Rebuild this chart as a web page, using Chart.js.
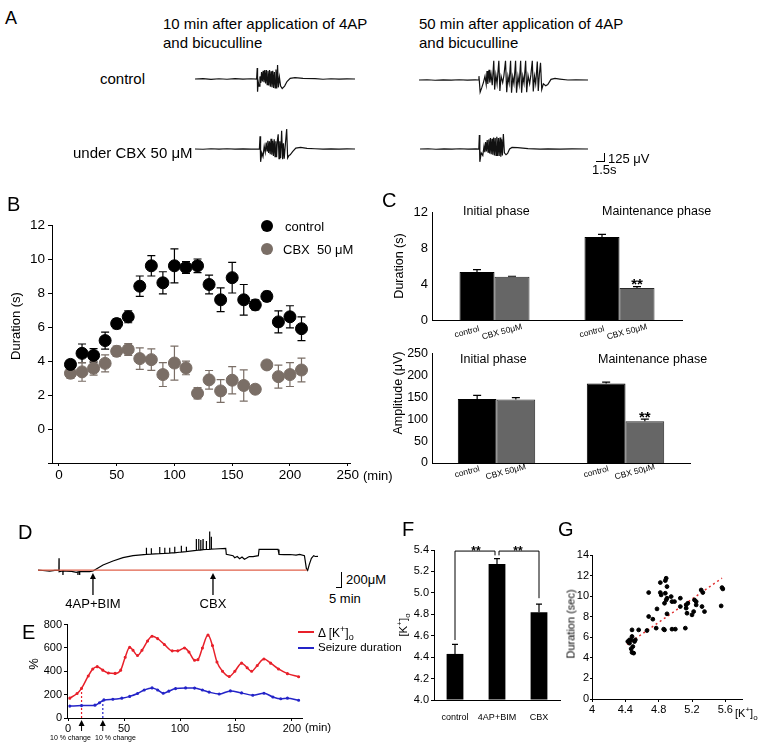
<!DOCTYPE html>
<html>
<head>
<meta charset="utf-8">
<script src="https://cdn.jsdelivr.net/npm/chart.js@4.4.1/dist/chart.umd.min.js"></script>
<style>
  body { margin: 0; width: 763px; height: 743px; position: relative; overflow: hidden; background: #fff;
         font-family: Arial, "Liberation Sans", Helvetica, sans-serif; color: #000; }
  canvas { position: absolute; }
  .t { position: absolute; white-space: nowrap; line-height: 1; }
  .rot { transform: translate(-50%, -50%) rotate(-90deg); }
  .ln { position: absolute; background: #000; }
  .dot { position: absolute; width: 12px; height: 12px; border-radius: 50%; }
</style>
</head>
<body>
<canvas id="a1"></canvas><canvas id="a2"></canvas><canvas id="a3"></canvas><canvas id="a4"></canvas>
<canvas id="b"></canvas><canvas id="c1"></canvas><canvas id="c2"></canvas>
<canvas id="d"></canvas><canvas id="e"></canvas><canvas id="f"></canvas><canvas id="g"></canvas>

<!-- panel A -->
<div class="t" style="left:5px;top:9px;font-size:18px">A</div>
<div class="t" style="left:163px;top:15.5px;font-size:15px">10 min after application of 4AP</div>
<div class="t" style="left:163px;top:34.5px;font-size:15px">and bicuculline</div>
<div class="t" style="left:419px;top:15.5px;font-size:15px">50 min after application of 4AP</div>
<div class="t" style="left:419px;top:34.5px;font-size:15px">and bicuculline</div>
<div class="t" style="left:100px;top:70.5px;font-size:15px">control</div>
<div class="t" style="left:73px;top:144.5px;font-size:15px">under CBX 50 μM</div>
<div class="ln" style="left:604px;top:153px;width:1.2px;height:9px"></div>
<div class="ln" style="left:596px;top:161px;width:9px;height:1.2px"></div>
<div class="t" style="left:608px;top:151.5px;font-size:13px">125 μV</div>
<div class="t" style="left:592px;top:162.5px;font-size:13px">1.5s</div>

<!-- panel B -->
<div class="t" style="left:7px;top:194.4px;font-size:20px">B</div>
<div class="dot" style="left:261px;top:220px;background:#000"></div>
<div class="t" style="left:285px;top:220px;font-size:13px">control</div>
<div class="dot" style="left:261px;top:243px;background:#7a6e66"></div>
<div class="t" style="left:283px;top:243px;font-size:13px">CBX&nbsp;&nbsp;50 μM</div>
<div class="t rot" style="left:15px;top:326px;font-size:13px">Duration (s)</div>
<div class="t" style="left:363px;top:468.5px;font-size:13px">(min)</div>

<!-- panel C -->
<div class="t" style="left:382px;top:190.4px;font-size:20px">C</div>
<div class="t" style="left:463px;top:205px;font-size:12.5px">Initial phase</div>
<div class="t" style="left:602px;top:205px;font-size:12.5px">Maintenance phase</div>
<div class="t" style="left:460px;top:353px;font-size:12.5px">Initial phase</div>
<div class="t" style="left:598px;top:353px;font-size:12.5px">Maintenance phase</div>
<div class="t rot" style="left:399px;top:266px;font-size:12.5px">Duration (s)</div>
<div class="t rot" style="left:398px;top:393px;font-size:12.5px">Amplitude (μV)</div>

<!-- panel D -->
<div class="t" style="left:18px;top:522.4px;font-size:20px">D</div>
<div class="ln" style="left:341px;top:572px;width:1.2px;height:16px"></div>
<div class="ln" style="left:336px;top:587px;width:6px;height:1.2px"></div>
<div class="t" style="left:346px;top:572.5px;font-size:13px">200μM</div>
<div class="t" style="left:329px;top:591.5px;font-size:13px">5 min</div>

<!-- panel E -->
<div class="t" style="left:22px;top:622.4px;font-size:20px">E</div>
<div class="t rot" style="left:33px;top:664px;font-size:13px">%</div>
<div class="t" style="left:305px;top:722px;font-size:11.5px">(min)</div>
<div class="t" style="left:50px;top:733.5px;font-size:7px">10 % change</div>
<div class="t" style="left:95px;top:733.5px;font-size:7px">10 % change</div>
<div class="ln" style="left:298px;top:631px;width:16px;height:1.5px;background:#e8202a"></div>
<div class="t" style="left:318px;top:625px;font-size:12px">Δ [K<sup style="font-size:9px">+</sup>]<sub style="font-size:9px">o</sub></div>
<div class="ln" style="left:298px;top:647px;width:16px;height:1.5px;background:#2424c8"></div>
<div class="t" style="left:318px;top:641.5px;font-size:11.5px">Seizure duration</div>

<!-- panel F -->
<div class="t" style="left:402px;top:519.4px;font-size:20px">F</div>
<div class="t rot" style="left:404px;top:625px;font-size:11.5px">[K<sup style="font-size:8px">+</sup>]<sub style="font-size:8px">o</sub></div>

<!-- panel G -->
<div class="t" style="left:558px;top:519.4px;font-size:20px">G</div>
<div class="t rot" style="left:571px;top:624px;font-size:11px">Duration (sec)</div>
<div class="t" style="left:735px;top:706px;font-size:11px">[K<sup style="font-size:8px">+</sup>]<sub style="font-size:8px">o</sub></div>

<script>
// ---------- data ----------
// A: field potential traces, [time (s), amplitude (µV)]
const aControl10 = [[0,0],[1,5],[2,-5],[3,4],[4,-4],[5,5],[6,-3],[7,4],[7.7,0],
  [7.78,170],[7.82,-200],[7.9,-40],[8.0,-110],[8.12,40],[8.22,-60],[8.32,110],[8.42,-40],[8.52,130],[8.62,-50],
  [8.72,140],[8.82,-70],[8.92,140],[9.02,-90],[9.12,130],[9.22,-100],[9.32,140],[9.42,-120],[9.52,120],[9.62,-130],
  [9.72,130],[9.82,-140],[9.92,110],[10.02,-140],[10.12,150],[10.22,-150],[10.32,220],[10.42,-130],[10.55,30],
  [10.7,-110],[10.9,-150],[11.2,-110],[11.5,-40],[11.9,10],[12.5,20],[13.5,10],[15,5],[16,-4],[17,4],[18,-3],[19,3],[20,0]];
const aControl50 = [[0,0],[1,4],[2,-4],[3,3],[4,-3],[5,4],[6,-3],[7,2],[7.35,0],[7.45,60],[7.6,-190],[7.8,-120],
  [8.0,-40],[8.2,60],[8.35,-70],[8.45,140],[8.55,-60],[8.7,160],[8.8,-40],[8.95,90],[9.1,-80],[9.29,300],[9.4,-150],
  [9.55,80],[9.7,-60],[9.92,300],[10.05,-170],[10.2,60],[10.4,-40],[10.55,70],[10.75,300],[10.9,-190],[11.05,60],
  [11.2,-50],[11.38,300],[11.5,-200],[11.65,50],[11.8,-60],[12.0,300],[12.12,-200],[12.3,60],[12.45,-70],[12.63,300],
  [12.75,-200],[12.9,60],[13.05,-50],[13.25,300],[13.38,-190],[13.55,70],[13.75,-60],[13.9,80],[14.08,300],[14.2,-180],
  [14.35,60],[14.5,-60],[14.7,290],[14.82,-170],[14.95,80],[15.1,270],[15.25,-150],[15.45,-60],[15.75,-90],[16.0,-70],
  [16.4,10],[16.9,25],[17.5,15],[18.5,0],[19.5,4],[21,0]];
const aCbx10 = [[0,0],[1,-4],[2,4],[3,-3],[4,4],[5,-3],[6,3],[7,-3],[8.05,0],[8.13,200],[8.2,-200],[8.35,-60],
  [8.5,-120],[8.65,40],[8.78,-50],[8.9,100],[9.0,-30],[9.1,130],[9.2,-60],[9.3,120],[9.4,-80],[9.5,160],[9.6,-90],
  [9.7,130],[9.8,-110],[9.9,150],[10.0,-120],[10.1,120],[10.2,-130],[10.3,140],[10.4,230],[10.5,-150],[10.6,120],
  [10.7,-140],[10.83,285],[10.95,-160],[11.05,90],[11.15,-150],[11.3,80],[11.46,312],[11.58,-140],[11.75,-100],
  [11.9,-90],[12.2,-40],[12.6,15],[13.2,25],[14,10],[15,4],[16,-3],[17,3],[18,-3],[19,3],[20,0]];
const aCbx50 = [[0,0],[1,4],[2,-4],[3,3],[4,-3],[5,4],[6,-3],[7,3],[7.35,0],[7.42,220],[7.48,-200],[7.65,-60],
  [7.85,-100],[8.0,40],[8.1,-50],[8.2,110],[8.3,-40],[8.4,140],[8.5,-50],[8.6,150],[8.7,-70],[8.8,170],[8.9,-80],
  [9.0,160],[9.1,-90],[9.2,180],[9.3,-100],[9.4,170],[9.5,-100],[9.6,190],[9.7,-110],[9.8,170],[9.9,-110],[10.0,180],
  [10.1,-120],[10.2,150],[10.3,-100],[10.42,234],[10.55,-60],[10.75,-90],[10.95,-70],[11.2,0],[11.5,25],[12.2,20],
  [13.5,5],[15,-3],[16,3],[17.5,-3],[19,3],[21,0]];

// B: seizure duration over time
const bTime = [10,20,30,40,50,60,70,80,90,100,110,120,130,140,150,160,170,180,190,200,210];
const bControl = [3.8,4.45,4.33,5.2,6.2,6.6,8.4,9.6,8.6,9.6,9.5,9.6,8.5,7.6,8.9,7.6,7.3,7.8,6.3,6.6,5.9];
const bControlErr = [0.25,0.55,0.4,0.5,0.3,0.35,0.6,0.6,0.65,1.0,0.35,0.4,0.55,0.7,0.9,0.9,0.3,0.3,0.65,0.65,0.7];
const bCbx = [3.28,3.36,3.57,3.86,4.57,4.68,4.14,4.08,3.2,3.88,3.59,2.1,2.89,2.24,2.87,2.56,2.34,3.77,3.08,3.2,3.47];
const bCbxErr = [0.3,0.55,0.4,0.5,0.3,0.35,0.63,0.63,0.7,1.0,0.4,0.33,0.55,0.67,0.8,0.92,0.25,0.25,0.68,0.7,0.7];
const bXTicks = [0,50,100,150,200,250];

// C: duration and amplitude by phase
const cGroups = ['Initial phase','Maintenance phase'];
const cBarLabels = ['control','CBX 50μM'];
const cDurControl = [5.38,9.29], cDurControlErr = [0.25,0.3];
const cDurCbx = [4.83,3.59], cDurCbxErr = [0.07,0.15];
const cAmpControl = [146.4,181.7], cAmpControlErr = [8,3];
const cAmpCbx = [144.9,95.3], cAmpCbxErr = [4.5,5];
const cSig = ['','**'];

// D: K+ recording, [time (min), level]
const dTrace = [[0,0],[4,-5],[9.7,-11],[14,-4],[17.4,-4],[17.5,130],[17.6,-18],[20.7,-10],[20.8,-74],[20.9,-10],
  [23.6,-11],[28,-15],[31.9,-26],[33.2,-20],[33.3,-74],[33.4,-20],[34.6,-18],[34.7,-55],[34.8,-18],[43,-18],
  [45.8,-11],[48.6,11],[54.2,56],[62.5,100],[70.8,137],[79.2,159],[86,168],[90.2,174],[90.3,248],[90.4,174],
  [94.3,176],[94.4,241],[94.5,176],[101.3,181],[101.4,255],[101.5,181],[105.5,184],[105.6,248],[105.7,184],
  [109.6,187],[109.7,248],[109.8,187],[113.8,192],[113.9,259],[114,192],[119.3,200],[119.4,270],[119.5,200],
  [123.5,204],[123.6,259],[123.7,204],[131.8,218],[131.9,344],[132,218],[133.8,220],[133.9,344],[134,220],
  [135.5,222],[135.6,333],[135.7,222],[137.4,226],[137.5,344],[137.6,226],[140.2,228],[140.3,322],[140.4,228],
  [142.9,230],[143,426],[143.1,230],[144.3,231],[144.4,370],[144.5,231],[147.2,233],[156.4,241],[156.9,174],
  [162.5,159],[163.9,137],[166,150],[168,125],[170,145],[172,120],[173.6,130],[176,150],[179.2,148],[183.6,159],
  [184.2,229],[200,229],[200.8,174],[205,170],[210,172],[215,165],[218,174],[222,159],[223.6,18],[224.7,-4],
  [226,60],[227.8,130],[229.7,159],[231,150],[233.3,152]];
const dBaseline = [[0,0],[224,0]];
const dMarkTime = [45.8,145.8];
const dMarkLabel = ['4AP+BIM','CBX'];

// E: percent change over time
const eKTime = [1.5,8,12,18,22,26,31,36,42,47,51,55,58,62,66,71,75,80,86,93,98,104,108,113,116,120,125,129,133,138,144,149,155,160,164,169,175,181,188,196,206];
const eKValue = [170,210,254,360,420,440,410,385,382,410,520,605,580,535,580,660,700,680,630,575,575,600,565,495,500,600,710,620,480,400,355,400,470,430,400,450,505,470,420,380,353];
const eDurTime = [1.5,12,24,28,32,40,48,55,62,68,75,80,85,90,96,105,113,120,126,135,145,155,165,175,183,190,196,206];
const eDurValue = [102,106,110,130,155,160,170,185,210,240,258,240,212,230,252,258,256,240,222,205,232,215,195,212,180,165,170,152];
const eChangeTime = [12,31];
const eChangeLevel = [254,150];
const eXTicks = [0,50,100,150,200];

// F: [K+]o by condition
const fLabels = ['control','4AP+BIM','CBX'];
const fValues = [4.43,5.27,4.82];
const fErrors = [0.09,0.05,0.075];
const fBracketTop = 5.39, fBracketLeft = 4.56, fBracketRight = 4.95;

// G: duration vs [K+]o
const gK = [4.43,4.45,4.47,4.48,4.48,4.49,4.48,4.50,4.51,4.47,4.45,4.52,4.56,4.66,4.68,4.68,4.73,4.78,4.77,4.82,
  4.82,4.83,4.87,4.86,4.87,4.88,4.88,4.89,4.90,4.89,4.90,4.90,4.95,4.96,4.96,4.99,5.00,5.06,5.06,5.12,
  5.13,5.13,5.14,5.15,5.20,5.23,5.25,5.25,5.32,5.31,5.33,5.35,5.22,5.55,5.56,5.57];
const gDur = [5.59,5.43,5.75,6.72,6.08,5.10,4.53,4.46,5.59,4.88,5.75,5.75,6.72,6.66,10.35,8.02,7.76,8.76,6.89,11.32,
  10.35,10.12,9.31,6.79,6.72,10.28,11.51,11.74,10.93,9.63,8.28,9.80,9.96,9.47,6.79,9.47,6.79,9.80,8.99,6.89,
  9.15,8.83,8.34,9.31,8.18,9.63,9.47,9.15,8.99,10.60,10.35,8.50,8.50,9.05,10.83,10.70];
const gFit = [[4.42,5.3],[5.56,11.75]];

// ---------- helpers ----------
Chart.defaults.font.family = 'Arial, "Liberation Sans", Helvetica, sans-serif';
Chart.defaults.color = '#000';
Chart.defaults.animation = false;
Chart.defaults.responsive = false;
Chart.defaults.plugins.legend.display = false;
Chart.defaults.plugins.tooltip.enabled = false;

const FONT = 'Arial, "Liberation Sans", Helvetica, sans-serif';
const xy = pts => pts.map(p => ({ x: p[0], y: p[1] }));

// put a canvas so that its chart area lands on area = [left, top, right, bottom]
function setup(id, area, m) {
  const c = document.getElementById(id);
  c.width = area[2] - area[0] + m[0] + m[2];
  c.height = area[3] - area[1] + m[1] + m[3];
  c.style.left = (area[0] - m[0]) + 'px';
  c.style.top = (area[1] - m[1]) + 'px';
  return c;
}

function drawErrors(chart) {
  const ctx = chart.ctx, ys = chart.scales.y;
  chart.data.datasets.forEach((ds, i) => {
    if (!ds.errors) return;
    const meta = chart.getDatasetMeta(i);
    ctx.save();
    ctx.strokeStyle = ds.errorColor || '#000';
    ctx.lineWidth = 1.2;
    meta.data.forEach((el, j) => {
      const raw = ds.data[j];
      const v = typeof raw === 'object' ? raw.y : raw;
      const cap = ds.errorCap || 3;
      const top = ys.getPixelForValue(v + ds.errors[j]);
      const bot = ds.bothSides ? ys.getPixelForValue(v - ds.errors[j]) : el.y;
      ctx.beginPath();
      ctx.moveTo(el.x, top); ctx.lineTo(el.x, bot);
      ctx.moveTo(el.x - cap, top); ctx.lineTo(el.x + cap, top);
      if (ds.bothSides) { ctx.moveTo(el.x - cap, bot); ctx.lineTo(el.x + cap, bot); }
      ctx.stroke();
    });
    ctx.restore();
  });
}
const errorsBehind = { id: 'errorsBehind', beforeDatasetsDraw: drawErrors };
const errorsFront = { id: 'errorsFront', afterDatasetsDraw: drawErrors };

function arrowUp(ctx, x, tip, tail) {
  ctx.beginPath();
  ctx.moveTo(x, tail); ctx.lineTo(x, tip + 2); ctx.stroke();
  ctx.beginPath();
  ctx.moveTo(x, tip); ctx.lineTo(x - 3, tip + 6); ctx.lineTo(x + 3, tip + 6); ctx.closePath(); ctx.fill();
}

const axisGrid = len => ({ display: true, drawOnChartArea: false, drawTicks: true, tickLength: len, color: '#000' });
const axisBorder = { color: '#000', width: 1 };

// ---------- A ----------
function traceChart(id, area, pts, tMax) {
  new Chart(setup(id, area, [0, 0, 0, 0]), {
    type: 'line',
    data: { datasets: [{ data: xy(pts), borderColor: '#111', borderWidth: 1.2, pointRadius: 0, tension: 0 }] },
    options: {
      layout: { padding: 0 },
      scales: { x: { type: 'linear', display: false, min: 0, max: tMax }, y: { display: false, min: -375, max: 375 } }
    }
  });
}
traceChart('a1', [195, 55, 355, 103], aControl10, 20);
traceChart('a2', [419, 56, 588, 104], aControl50, 21);
traceChart('a3', [195, 125, 355, 173], aCbx10, 20);
traceChart('a4', [420, 125, 588, 173], aCbx50, 21);

// ---------- B ----------
new Chart(setup('b', [52, 225, 350, 463], [52, 12, 22, 22]), {
  type: 'scatter',
  data: {
    datasets: [
      { data: bTime.map((t, i) => ({ x: t, y: bControl[i] })), errors: bControlErr, bothSides: true, errorCap: 4,
        errorColor: '#000', backgroundColor: '#000', borderColor: '#000', pointRadius: 6 },
      { data: bTime.map((t, i) => ({ x: t, y: bCbx[i] })), errors: bCbxErr, bothSides: true, errorCap: 4,
        errorColor: '#7a6e66', backgroundColor: '#7a6e66', borderColor: '#7a6e66', pointRadius: 6 }
    ]
  },
  options: {
    layout: { padding: { top: 12, right: 22, left: 0, bottom: 0 } },
    scales: {
      x: { type: 'linear', min: -6, max: 252,
           afterBuildTicks: s => { s.ticks = bXTicks.map(v => ({ value: v })); },
           afterFit: s => { s.height = 22; },
           grid: axisGrid(3), border: axisBorder,
           ticks: { font: { size: 13.5 }, padding: 1, maxRotation: 0 } },
      y: { min: -2, max: 12,
           afterFit: s => { s.width = 52; },
           grid: axisGrid(4), border: axisBorder,
           ticks: { stepSize: 2, font: { size: 13.5 }, padding: 3, callback: v => (v < 0 ? '' : v) } }
    }
  },
  plugins: [errorsBehind]
});

// ---------- C ----------
function cChart(id, area, ctrl, ctrlErr, cbx, cbxErr, yMax, yStep, catPct, labelDy, tickSize) {
  const labelPlugin = {
    id: 'cLabels',
    afterDraw(chart) {
      const ctx = chart.ctx, base = chart.chartArea.bottom, ys = chart.scales.y;
      ctx.save();
      ctx.fillStyle = '#000';
      chart.data.datasets.forEach((ds, i) => {
        chart.getDatasetMeta(i).data.forEach((el, j) => {
          ctx.save();
          ctx.font = '8.5px ' + FONT;
          ctx.textAlign = 'center'; ctx.textBaseline = 'middle';
          ctx.translate(el.x - 10, base + labelDy);
          ctx.rotate(-15 * Math.PI / 180);
          ctx.fillText(cBarLabels[i], 0, 0);
          ctx.restore();
          if (ds.sig && ds.sig[j]) {
            ctx.font = 'bold 15px ' + FONT;
            ctx.textAlign = 'center'; ctx.textBaseline = 'alphabetic';
            ctx.fillText(ds.sig[j], el.x, ys.getPixelForValue(ds.data[j] + ds.errors[j]) + 2.5);
          }
        });
      });
      ctx.restore();
    }
  };
  new Chart(setup(id, area, [40, 10, 15, 25]), {
    type: 'bar',
    data: {
      labels: cGroups,
      datasets: [
        { data: ctrl, errors: ctrlErr, errorCap: 4, backgroundColor: '#000', borderColor: '#000', borderWidth: 1,
          barPercentage: 1, categoryPercentage: catPct },
        { data: cbx, errors: cbxErr, errorCap: 4, sig: cSig, backgroundColor: '#666', borderColor: '#2a2a2a', borderWidth: 1,
          barPercentage: 1, categoryPercentage: catPct }
      ]
    },
    options: {
      layout: { padding: { top: 10, right: 15, left: 0, bottom: 0 } },
      scales: {
        x: { grid: { display: false }, ticks: { display: false }, border: axisBorder, afterFit: s => { s.height = 25; } },
        y: { min: 0, max: yMax, grid: { display: false, drawTicks: false }, border: axisBorder, afterFit: s => { s.width = 40; },
             ticks: { stepSize: yStep, font: { size: tickSize }, padding: 4 } }
      }
    },
    plugins: [errorsFront, labelPlugin]
  });
}
cChart('c1', [432, 211, 682, 320], cDurControl, cDurControlErr, cDurCbx, cDurCbxErr, 12, 4, 0.56, 12, 13);
cChart('c2', [432, 352, 690, 463], cAmpControl, cAmpControlErr, cAmpCbx, cAmpCbxErr, 250, 50, 0.6, 9, 12.5);

// ---------- D ----------
const dMarks = {
  id: 'dMarks',
  afterDraw(chart) {
    const ctx = chart.ctx, xs = chart.scales.x, b = chart.chartArea.bottom;
    ctx.save();
    ctx.strokeStyle = '#000'; ctx.fillStyle = '#000'; ctx.lineWidth = 1.3;
    ctx.font = '13px ' + FONT; ctx.textAlign = 'center'; ctx.textBaseline = 'middle';
    dMarkTime.forEach((t, i) => {
      const x = xs.getPixelForValue(t);
      arrowUp(ctx, x, b - 2, b + 20);
      ctx.fillText(dMarkLabel[i], x, b + 29);
    });
    ctx.restore();
  }
};
new Chart(setup('d', [38, 529, 318, 575], [0, 5, 6, 36]), {
  type: 'line',
  data: {
    datasets: [
      { data: xy(dBaseline), borderColor: '#e0604a', borderWidth: 1.3, pointRadius: 0, order: 0 },
      { data: xy(dTrace), borderColor: '#000', borderWidth: 1.2, pointRadius: 0, order: 1 }
    ]
  },
  options: {
    layout: { padding: { left: 0, top: 5, right: 6, bottom: 36 } },
    scales: { x: { type: 'linear', display: false, min: 0, max: 233.3 }, y: { display: false, min: -55, max: 455 } }
  },
  plugins: [dMarks]
});

// ---------- E ----------
const eArrows = {
  id: 'eArrows',
  afterDraw(chart) {
    const ctx = chart.ctx, xs = chart.scales.x, b = chart.chartArea.bottom;
    ctx.save();
    ctx.strokeStyle = '#000'; ctx.fillStyle = '#000'; ctx.lineWidth = 1;
    eChangeTime.forEach(t => arrowUp(ctx, xs.getPixelForValue(t), b + 2, b + 13));
    ctx.restore();
  }
};
new Chart(setup('e', [67, 624, 302, 718], [40, 8, 10, 16]), {
  type: 'line',
  data: {
    datasets: [
      { data: eKTime.map((t, i) => ({ x: t, y: eKValue[i] })), borderColor: '#e8202a', backgroundColor: '#e8202a',
        borderWidth: 1.5, pointRadius: 0.8, cubicInterpolationMode: 'monotone' },
      { data: eDurTime.map((t, i) => ({ x: t, y: eDurValue[i] })), borderColor: '#2424c8', backgroundColor: '#2424c8',
        borderWidth: 1.5, pointRadius: 0.8, cubicInterpolationMode: 'monotone' },
      { data: [{ x: eChangeTime[0], y: 0 }, { x: eChangeTime[0], y: eChangeLevel[0] }], borderColor: '#e8202a',
        borderWidth: 1.2, borderDash: [2, 2], pointRadius: 0 },
      { data: [{ x: eChangeTime[1], y: 0 }, { x: eChangeTime[1], y: eChangeLevel[1] }], borderColor: '#2424c8',
        borderWidth: 1.2, borderDash: [2, 2], pointRadius: 0 }
    ]
  },
  options: {
    layout: { padding: { top: 8, right: 10, left: 0, bottom: 0 } },
    scales: {
      x: { type: 'linear', min: -1, max: 209,
           afterBuildTicks: s => { s.ticks = eXTicks.map(v => ({ value: v })); },
           afterFit: s => { s.height = 16; },
           grid: axisGrid(3), border: axisBorder, ticks: { font: { size: 11 }, padding: 1, maxRotation: 0 } },
      y: { min: 0, max: 800, afterFit: s => { s.width = 40; },
           grid: axisGrid(3), border: axisBorder, ticks: { stepSize: 200, font: { size: 11 }, padding: 2 } }
    }
  },
  plugins: [eArrows]
});

// ---------- F ----------
const fBrackets = {
  id: 'fBrackets',
  afterDraw(chart) {
    const ctx = chart.ctx, ys = chart.scales.y, bars = chart.getDatasetMeta(0).data;
    const x0 = bars[0].x, x1 = bars[1].x, x2 = bars[2].x;
    const yt = ys.getPixelForValue(fBracketTop), ym = ys.getPixelForValue(fBracketTop - 0.04);
    ctx.save();
    ctx.strokeStyle = '#000'; ctx.lineWidth = 1;
    ctx.beginPath();
    ctx.moveTo(x0, ys.getPixelForValue(fBracketLeft)); ctx.lineTo(x0, yt); ctx.lineTo(x1 - 2, yt); ctx.lineTo(x1 - 2, ym);
    ctx.moveTo(x2, ys.getPixelForValue(fBracketRight)); ctx.lineTo(x2, yt); ctx.lineTo(x1 + 2, yt); ctx.lineTo(x1 + 2, ym);
    ctx.stroke();
    ctx.fillStyle = '#000'; ctx.font = 'bold 12px ' + FONT; ctx.textAlign = 'center'; ctx.textBaseline = 'alphabetic';
    ctx.fillText('**', (x0 + x1) / 2, yt + 4);
    ctx.fillText('**', (x1 + x2) / 2, yt + 4);
    ctx.restore();
  }
};
new Chart(setup('f', [434, 550, 560, 700], [35, 10, 10, 20]), {
  type: 'bar',
  data: {
    labels: fLabels,
    datasets: [{ data: fValues, errors: fErrors, errorCap: 3, base: 4, backgroundColor: '#000',
                 barPercentage: 0.4, categoryPercentage: 1 }]
  },
  options: {
    layout: { padding: { top: 10, right: 10, left: 0, bottom: 0 } },
    scales: {
      x: { grid: { display: false }, border: axisBorder, afterFit: s => { s.height = 20; },
           ticks: { font: { size: 9 }, padding: 4, maxRotation: 0 } },
      y: { min: 4, max: 5.4, afterFit: s => { s.width = 35; }, grid: axisGrid(3), border: axisBorder,
           ticks: { stepSize: 0.2, font: { size: 11 }, padding: 2, callback: v => v.toFixed(1) } }
    }
  },
  plugins: [errorsFront, fBrackets]
});

// ---------- G ----------
new Chart(setup('g', [592, 555, 742, 699], [25, 10, 8, 16]), {
  type: 'scatter',
  data: {
    datasets: [
      { data: gK.map((k, i) => ({ x: k, y: gDur[i] })), backgroundColor: '#000', borderColor: '#000', pointRadius: 1.9 },
      { type: 'line', data: xy(gFit), borderColor: '#e03030', borderWidth: 1.5, borderDash: [2, 3], pointRadius: 0 }
    ]
  },
  options: {
    layout: { padding: { top: 10, right: 8, left: 0, bottom: 0 } },
    scales: {
      x: { type: 'linear', min: 4, max: 5.8, afterFit: s => { s.height = 16; }, grid: axisGrid(3), border: axisBorder,
           ticks: { stepSize: 0.2, font: { size: 11 }, padding: 1, maxRotation: 0,
                    callback: (v, i) => (i % 2 === 0 ? (v === 4 ? '4' : v.toFixed(1)) : '') } },
      y: { min: 0, max: 14, afterFit: s => { s.width = 25; }, grid: axisGrid(2), border: axisBorder,
           ticks: { stepSize: 2, font: { size: 11 }, padding: 1 } }
    }
  }
});
</script>
</body>
</html>
